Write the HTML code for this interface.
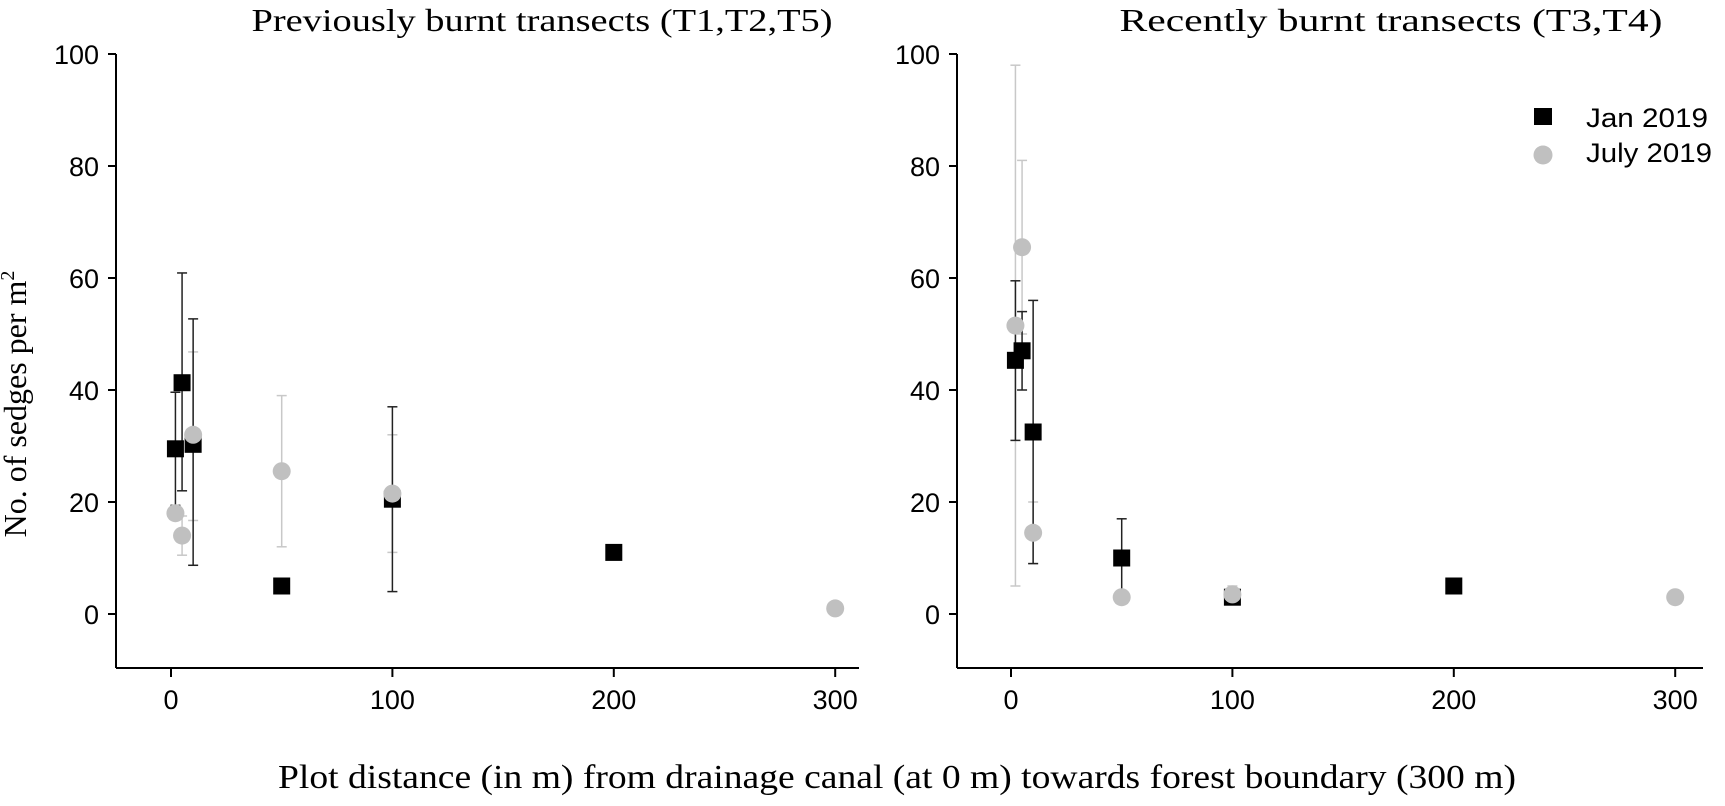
<!DOCTYPE html>
<html><head><meta charset="utf-8"><style>
html,body{margin:0;padding:0;background:#fff;}
svg{display:block;}
</style></head><body>
<svg id="chart" width="1725" height="806" xmlns="http://www.w3.org/2000/svg">
<text x="26" y="404" transform="rotate(-90 26 404)" text-anchor="middle" font-family="Liberation Serif, serif" font-size="32">No. of sedges per m<tspan font-size="20" dy="-12">2</tspan></text>
<text x="897" y="788" text-anchor="middle" font-family="Liberation Serif, serif" font-size="34" textLength="1238" lengthAdjust="spacingAndGlyphs">Plot distance (in m) from drainage canal (at 0 m) towards forest boundary (300 m)</text>
<text x="542" y="31" text-anchor="middle" font-family="Liberation Serif, serif" font-size="32" textLength="581" lengthAdjust="spacingAndGlyphs">Previously burnt transects (T1,T2,T5)</text>
<text x="1391" y="31" text-anchor="middle" font-family="Liberation Serif, serif" font-size="32" textLength="543" lengthAdjust="spacingAndGlyphs">Recently burnt transects (T3,T4)</text>
<g>
<rect x="1534" y="108" width="18" height="17" fill="#000"/>
<text x="1586" y="127" font-family="Liberation Sans, sans-serif" font-size="27" textLength="122" lengthAdjust="spacingAndGlyphs">Jan 2019</text>
<circle cx="1543" cy="155" r="9.5" fill="#c0c0c0"/>
<text x="1586" y="162" font-family="Liberation Sans, sans-serif" font-size="27" textLength="126" lengthAdjust="spacingAndGlyphs">July 2019</text>
</g>
</svg>
<script>
const yTicks = [0, 20, 40, 60, 80, 100];
const xTicks = [0, 100, 200, 300];
const leftJanX = [2, 5, 10, 50, 100, 200];
const leftJanY = [29.5, 41.3, 30.3, 5, 20.5, 11];
const leftJanLo = [19.4, 22, 8.7, 5, 4, 11];
const leftJanHi = [39.6, 60.9, 52.7, 5, 37, 11];
const leftJulX = [2, 5, 10, 50, 100, 300];
const leftJulY = [18, 14, 32, 25.5, 21.5, 1];
const leftJulLo = [18, 10.5, 16.7, 12, 11, 1];
const leftJulHi = [18, 17.5, 46.8, 39, 32, 1];
const rightJanX = [2, 5, 10, 50, 100, 200];
const rightJanY = [45.3, 47, 32.5, 10, 3, 5];
const rightJanLo = [31, 40, 9, 3, 2, 5];
const rightJanHi = [59.5, 54, 56, 17, 4, 5];
const rightJulX = [2, 5, 10, 50, 100, 300];
const rightJulY = [51.5, 65.5, 14.5, 3, 3.5, 3];
const rightJulLo = [5, 50, 9, 3, 2, 3];
const rightJulHi = [98, 81, 20, 3, 5, 3];

const NS = 'http://www.w3.org/2000/svg';
const svg = document.getElementById('chart');
function mk(tag, attrs, parent) {
  const e = document.createElementNS(NS, tag);
  for (const k in attrs) e.setAttribute(k, attrs[k]);
  (parent || svg).appendChild(e);
  return e;
}
function yScale(v) { return 614 - 5.6 * v; }

function panel(name, axisX, x0, xEnd, janX, janY, janLo, janHi, julX, julY, julLo, julHi) {
  const xs = v => x0 + 2.214 * v;
  const g = mk('g', {});
  
  
  const ya = mk('line', {x1: axisX, y1: 54, x2: axisX, y2: 668, stroke: '#000', 'stroke-width': 2}, g);
  
  
  const xa = mk('line', {x1: axisX, y1: 668, x2: xEnd, y2: 668, stroke: '#000', 'stroke-width': 2}, g);
  
  
  yTicks.forEach(t => {
    const y = yScale(t);
    const tk = mk('line', {x1: axisX - 8, y1: y, x2: axisX, y2: y, stroke: '#000', 'stroke-width': 2}, g);
    
    
    const lb = mk('text', {x: axisX - 17, y: y + 10, 'text-anchor': 'end', 'font-family': 'Liberation Sans, sans-serif', 'font-size': 27}, g);
    lb.textContent = t;
    
    
  });
  xTicks.forEach(t => {
    const x = xs(t);
    const tk = mk('line', {x1: x, y1: 668, x2: x, y2: 677, stroke: '#000', 'stroke-width': 2}, g);
    
    
    const lb = mk('text', {x: x, y: 709, 'text-anchor': 'middle', 'font-family': 'Liberation Sans, sans-serif', 'font-size': 27}, g);
    lb.textContent = t;
    
    
  });
  function errbar(x, lo, hi, col) {
    if (hi - lo < 0.01) return;
    const eg = mk('g', {stroke: col, 'stroke-width': 1.5}, g);
    
    
    mk('line', {x1: x, y1: yScale(lo), x2: x, y2: yScale(hi)}, eg);
    mk('line', {x1: x - 5, y1: yScale(lo), x2: x + 5, y2: yScale(lo)}, eg);
    mk('line', {x1: x - 5, y1: yScale(hi), x2: x + 5, y2: yScale(hi)}, eg);
  }
  julX.forEach((v, i) => errbar(xs(v), julLo[i], julHi[i], '#c8c8c8'));
  janX.forEach((v, i) => errbar(xs(v), janLo[i], janHi[i], '#222'));
  janX.forEach((v, i) => {
    const r = mk('rect', {x: xs(v) - 8.5, y: yScale(janY[i]) - 8.5, width: 17, height: 17, fill: '#000'}, g);
    
    
  });
  julX.forEach((v, i) => {
    const c = mk('circle', {cx: xs(v), cy: yScale(julY[i]), r: 9, fill: '#c0c0c0'}, g);
    
    
  });
}
panel('left-panel', 116, 171, 859, leftJanX, leftJanY, leftJanLo, leftJanHi, leftJulX, leftJulY, leftJulLo, leftJulHi);
panel('right-panel', 957, 1011, 1703, rightJanX, rightJanY, rightJanLo, rightJanHi, rightJulX, rightJulY, rightJulLo, rightJulHi);
</script>
</body></html>
